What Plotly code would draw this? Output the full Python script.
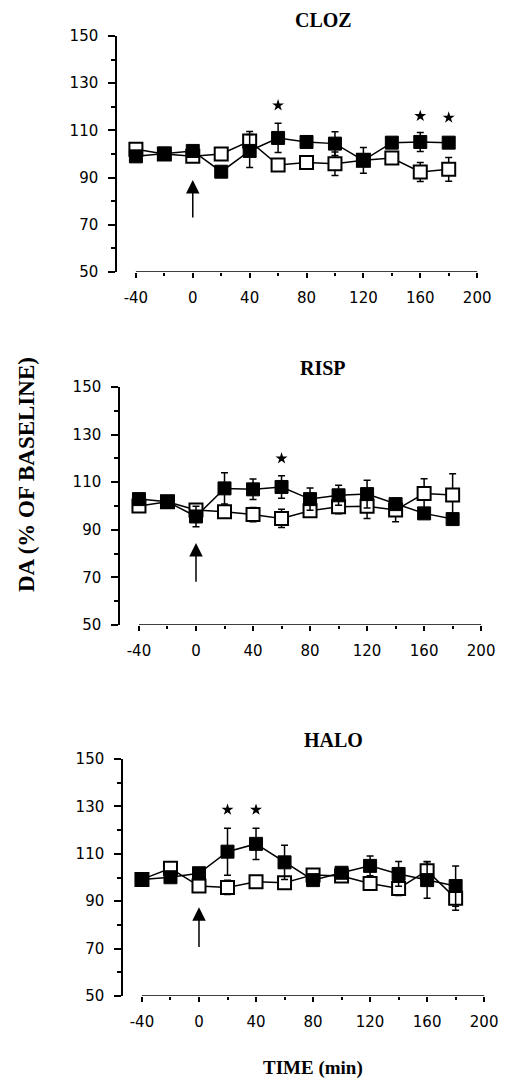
import plotly.graph_objects as go

# Sampling times (min) relative to drug injection
time_min = [-40, -20, 0, 20, 40, 60, 80, 100, 120, 140, 160, 180]
x_tick_vals = [-40, 0, 40, 80, 120, 160, 200]
x_tick_text = ["-40", "0", "40", "80", "120", "160", "200"]
y_tick_vals = [50, 70, 90, 110, 130, 150]

# CLOZ panel: mean DA (% of baseline) and SEM
cloz_open = [102, 100, 99, 100, 105.5, 95.3, 96.4, 95.9, 97.4, 98.3, 92.4, 93.5]
cloz_open_err = [1.5, 1.5, 1.5, 1.5, 4, 2, 2, 5, 2, 2, 4, 5]
cloz_filled = [99, 100.2, 101.3, 92.5, 101.3, 106.8, 105.1, 104.4, 97.3, 104.8, 105.1, 104.8]
cloz_filled_err = [1.5, 1.5, 1.5, 1.5, 7, 6.2, 2, 5, 5.5, 2, 4, 2]
cloz_stars_t = [60, 160, 180]
cloz_stars_y = [120.6, 116.1, 115.4]

# RISP panel
risp_open = [100, 101.8, 98.3, 97.6, 96.4, 94.8, 98, 99.7, 99.9, 98.3, 105.2, 104.6]
risp_open_err = [1.5, 1.5, 2, 2, 3, 3.8, 2.5, 3, 5.1, 4.9, 6.3, 9]
risp_filled = [102.9, 101.8, 95.6, 107.4, 107.0, 108.0, 102.9, 104.5, 105, 100.8, 96.9, 94.5]
risp_filled_err = [1.5, 1.5, 4.3, 6.6, 4.3, 4.7, 4.7, 4.2, 5.8, 2, 1.5, 1.5]
risp_stars_t = [60]
risp_stars_y = [120]

# HALO panel
halo_open = [99.2, 103.9, 96.4, 95.8, 98.2, 97.8, 101.1, 100.6, 97.5, 95.4, 102.9, 91.2]
halo_open_err = [1.5, 2, 2, 3, 2, 2, 2, 2, 2, 3, 3.8, 5]
halo_filled = [99.2, 100.1, 101.8, 110.9, 114.2, 106.4, 98.9, 102.0, 104.9, 101.5, 98.9, 96.4]
halo_filled_err = [1.5, 1.5, 2, 9.9, 6.6, 7.2, 2, 2, 4.2, 5.2, 7.7, 8.5]
halo_stars_t = [20, 40]
halo_stars_y = [128.6, 128.6]

panel_titles = ["CLOZ", "RISP", "HALO"]
arrow_tip = [89, 84.5, 87.5]
arrow_tail = [72.5, 67.5, 70]

W, H = 505, 1080
# (left px, right px, bottom px, top px) of each panel's plotting region
panel_px = [
    (117, 478, 272, 36),
    (120, 482, 625, 387),
    (123, 485, 996, 759),
]
title_y_px = [20, 368, 740]
title_x_px = [323, 323, 333]

panels = [
    (cloz_open, cloz_open_err, cloz_filled, cloz_filled_err, cloz_stars_t, cloz_stars_y),
    (risp_open, risp_open_err, risp_filled, risp_filled_err, risp_stars_t, risp_stars_y),
    (halo_open, halo_open_err, halo_filled, halo_filled_err, halo_stars_t, halo_stars_y),
]

fig = go.Figure()
tick_font = dict(family="DejaVu Sans", size=15, color="black")
serif_bold = "Liberation Serif"

for i, (o, oe, f, fe, st, sy) in enumerate(panels):
    n = "" if i == 0 else str(i + 1)
    xa, ya = "x" + n, "y" + n
    err_style = dict(type="data", color="black", thickness=1.5, width=3.5)

    fig.add_trace(go.Scatter(
        x=time_min, y=o, xaxis=xa, yaxis=ya, mode="lines+markers",
        line=dict(color="black", width=1.5),
        marker=dict(symbol="square", size=13, color="white",
                    line=dict(color="black", width=2)),
        error_y=dict(array=oe, **err_style), showlegend=False,
    ))
    fig.add_trace(go.Scatter(
        x=time_min, y=f, xaxis=xa, yaxis=ya, mode="lines+markers",
        line=dict(color="black", width=1.5),
        marker=dict(symbol="square", size=13, color="black",
                    line=dict(color="black", width=1)),
        error_y=dict(array=fe, **err_style), showlegend=False,
    ))
    fig.add_trace(go.Scatter(
        x=st, y=sy, xaxis=xa, yaxis=ya, mode="markers",
        marker=dict(symbol="star", size=9, color="black"),
        showlegend=False,
    ))

    l, r, b, t = panel_px[i]
    fig.update_layout(**{
        "xaxis" + n: dict(
            domain=[l / W, r / W], range=[-53.3, 200.6], anchor=ya,
            showline=False, showgrid=False, zeroline=False, automargin=False,
            tickmode="array", tickvals=x_tick_vals, ticktext=x_tick_text,
            ticks="outside", ticklen=5, tickwidth=1.5, tickcolor="black",
            tickfont=tick_font, ticklabelstandoff=7,
            minor=dict(tickmode="array", tickvals=list(range(-20, 200, 40)),
                       ticks="outside", ticklen=3, tickwidth=1.5, tickcolor="black"),
        ),
        "yaxis" + n: dict(
            domain=[1 - b / H, 1 - t / H], range=[50, 150], anchor=xa,
            showline=True, linecolor="black", linewidth=1.5,
            showgrid=False, zeroline=False, automargin=False,
            tickmode="array", tickvals=y_tick_vals,
            ticks="outside", ticklen=7, tickwidth=1.5, tickcolor="black",
            tickfont=tick_font, ticklabelstandoff=7,
            minor=dict(tickmode="array", tickvals=list(range(60, 150, 20)),
                       ticks="outside", ticklen=4, tickwidth=1.5, tickcolor="black"),
        ),
    })

    # horizontal axis line spanning the sampled time window
    fig.add_shape(type="line", xref=xa, yref=ya, x0=-40, x1=200, y0=50, y1=50,
                  line=dict(color="black", width=1.5))

    # injection arrow at t = 0
    fig.add_annotation(
        xref=xa, yref=ya, axref=xa, ayref=ya,
        x=0, y=arrow_tip[i], ax=0, ay=arrow_tail[i], text="",
        showarrow=True, arrowhead=2, arrowsize=1.8, arrowwidth=1.5, arrowcolor="black",
    )

    fig.add_annotation(
        xref="paper", yref="paper", x=title_x_px[i] / W, y=1 - title_y_px[i] / H,
        text="<b>" + panel_titles[i] + "</b>", showarrow=False,
        xanchor="center", yanchor="middle",
        font=dict(family=serif_bold, size=20, color="black"),
    )

fig.add_annotation(
    xref="paper", yref="paper", x=26 / W, y=1 - 475 / H,
    text="<b>DA (% OF BASELINE)</b>", textangle=-90, showarrow=False,
    xanchor="center", yanchor="middle",
    font=dict(family=serif_bold, size=23, color="black"),
)
fig.add_annotation(
    xref="paper", yref="paper", x=313 / W, y=1 - 1068 / H,
    text="<b>TIME (min)</b>", showarrow=False,
    xanchor="center", yanchor="middle",
    font=dict(family=serif_bold, size=19, color="black"),
)

fig.update_layout(
    width=W, height=H, margin=dict(l=0, r=0, t=0, b=0, pad=0),
    paper_bgcolor="white", plot_bgcolor="white",
)

# let the figure fill the page edge to edge
fig.write_html(
    "out.html",
    post_script="document.body.style.margin='0';document.body.style.overflow='hidden';",
)
